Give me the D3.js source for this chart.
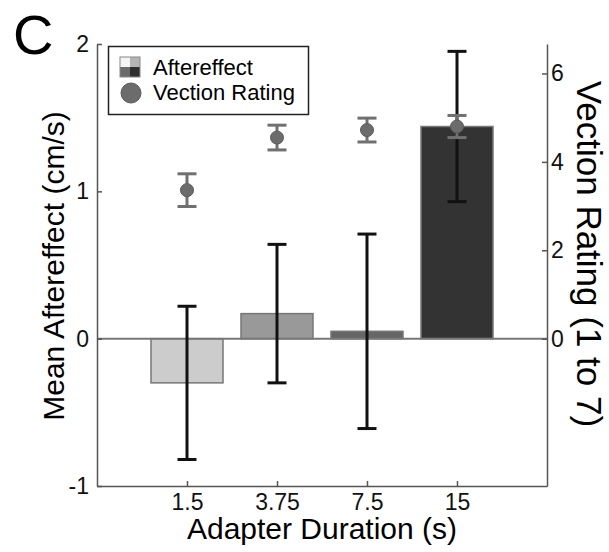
<!DOCTYPE html>
<html>
<head>
<meta charset="utf-8">
<script src="https://cdn.jsdelivr.net/npm/d3@7"></script>
<style>
	body { margin: 0; background: #fff; }
	svg { display: block; font-family: "Liberation Sans", Arial, Helvetica, sans-serif; }
	.axis path, .axis line { stroke: #555; stroke-width: 1.5; }
</style>
</head>
<body>
<svg id="chart" width="609" height="552"></svg>
<script>
// adapter durations (s)
var durations = ["1.5", "3.75", "7.5", "15"];
// mean aftereffect (cm/s) and its error
var aftereffect = [-0.30, 0.17, 0.05, 1.44];
var aftereffectErr = [0.52, 0.47, 0.66, 0.51];
// vection rating (1 to 7) and its error
var vection = [3.36, 4.55, 4.72, 4.80];
var vectionErr = [0.37, 0.28, 0.27, 0.25];
// tick labels
var leftTicks = [-1, 0, 1, 2];
var rightTicks = [0, 2, 4, 6];

var barShades = ["#cccccc", "#999999", "#666666", "#333333"];

var margin = {top: 44, right: 62, bottom: 66, left: 97},
	width = 609 - margin.left - margin.right,
	height = 552 - margin.top - margin.bottom;

var x = d3.scaleLinear().domain([0, durations.length + 1]).range([0, width]),
	y = d3.scaleLinear().domain([-1, 2]).range([height, 0]),
	y2 = d3.scaleLinear().domain([-10 / 3, 20 / 3]).range([height, 0]);

var barWidth = x(0.8) - x(0);
var capWidth = 19;

// plain hyphen for negatives, as in the original figure
function fmt(d) { return String(d); }

var svg = d3.select("#chart");

svg.append("text")
	.attr("x", 13)
	.attr("y", 54)
	.style("font-size", "56px")
	.text("C");

var g = svg.append("g")
	.attr("transform", "translate(" + margin.left + "," + margin.top + ")");

// bars
g.selectAll(".bar")
	.data(aftereffect)
	.enter().append("rect")
	.attr("class", "bar")
	.attr("x", function(d, i) { return x(i + 1) - barWidth / 2; })
	.attr("y", function(d) { return y(Math.max(0, d)); })
	.attr("width", barWidth)
	.attr("height", function(d) { return Math.abs(y(d) - y(0)); })
	.attr("fill", function(d, i) { return barShades[i]; })
	.attr("stroke", "#777")
	.attr("stroke-width", 1.5);

// zero line
g.append("line")
	.attr("x1", 0)
	.attr("x2", width)
	.attr("y1", y(0))
	.attr("y2", y(0))
	.attr("stroke", "#777")
	.attr("stroke-width", 2);

function errorBars(values, errs, scale, color, cls) {
	var eb = g.selectAll("." + cls)
		.data(values)
		.enter().append("g")
		.attr("class", cls)
		.attr("stroke", color)
		.attr("stroke-width", 3);
	eb.append("line")
		.attr("x1", function(d, i) { return x(i + 1); })
		.attr("x2", function(d, i) { return x(i + 1); })
		.attr("y1", function(d, i) { return scale(d - errs[i]); })
		.attr("y2", function(d, i) { return scale(d + errs[i]); });
	eb.append("line")
		.attr("x1", function(d, i) { return x(i + 1) - capWidth / 2; })
		.attr("x2", function(d, i) { return x(i + 1) + capWidth / 2; })
		.attr("y1", function(d, i) { return scale(d + errs[i]); })
		.attr("y2", function(d, i) { return scale(d + errs[i]); });
	eb.append("line")
		.attr("x1", function(d, i) { return x(i + 1) - capWidth / 2; })
		.attr("x2", function(d, i) { return x(i + 1) + capWidth / 2; })
		.attr("y1", function(d, i) { return scale(d - errs[i]); })
		.attr("y2", function(d, i) { return scale(d - errs[i]); });
}

errorBars(aftereffect, aftereffectErr, y, "#111", "aeErr");
errorBars(vection, vectionErr, y2, "#707070", "vecErr");

// vection points
g.selectAll(".dot")
	.data(vection)
	.enter().append("circle")
	.attr("class", "dot")
	.attr("r", 6.5)
	.attr("cx", function(d, i) { return x(i + 1); })
	.attr("cy", function(d) { return y2(d); })
	.attr("fill", "#6c6c6c")
	.attr("stroke", "#5a5a5a")
	.attr("stroke-width", 1);

// axes
g.append("g")
	.attr("class", "axis axis--y")
	.call(d3.axisLeft(y).tickValues(leftTicks).tickFormat(fmt).tickSizeInner(-5).tickSizeOuter(0).tickPadding(8));

g.append("g")
	.attr("class", "axis axis--y2")
	.attr("transform", "translate(" + width + ",0)")
	.call(d3.axisRight(y2).tickValues(rightTicks).tickFormat(fmt).tickSizeInner(-5).tickSizeOuter(0).tickPadding(4));

g.append("g")
	.attr("class", "axis axis--x")
	.attr("transform", "translate(0," + height + ")")
	.call(d3.axisBottom(x).tickValues([1, 2, 3, 4]).tickFormat(function(d) { return durations[d - 1]; }).tickSizeInner(-5).tickSizeOuter(0).tickPadding(8));

g.selectAll(".axis")
	.attr("font-family", null)
	.attr("font-size", null);
g.selectAll(".axis text")
	.style("font-size", "23px")
	.style("fill", "#111");

// axis titles
svg.append("text")
	.attr("x", margin.left + width / 2)
	.attr("y", 539)
	.attr("text-anchor", "middle")
	.style("font-size", "30px")
	.text("Adapter Duration (s)");

svg.append("text")
	.attr("transform", "translate(64,266) rotate(-90)")
	.attr("text-anchor", "middle")
	.style("font-size", "30px")
	.text("Mean Aftereffect (cm/s)");

svg.append("text")
	.attr("transform", "translate(577,254) rotate(90)")
	.attr("text-anchor", "middle")
	.style("font-size", "35px")
	.text("Vection Rating (1 to 7)");

// legend
var legend = svg.append("g").attr("class", "legend");

legend.append("rect")
	.attr("x", 108.5)
	.attr("y", 46.5)
	.attr("width", 200)
	.attr("height", 68)
	.attr("fill", "#fff")
	.attr("stroke", "#222")
	.attr("stroke-width", 1.5);

var quad = [["#f4f4f4", "#b4b4b4"], ["#6a6a6a", "#2e2e2e"]];
quad.forEach(function(row, r) {
	row.forEach(function(c, k) {
		legend.append("rect")
			.attr("x", 120 + k * 10)
			.attr("y", 57 + r * 10)
			.attr("width", 10)
			.attr("height", 10)
			.attr("fill", c);
	});
});
legend.append("rect")
	.attr("x", 120)
	.attr("y", 57)
	.attr("width", 20)
	.attr("height", 20)
	.attr("fill", "none")
	.attr("stroke", "#888")
	.attr("stroke-width", 1);

legend.append("circle")
	.attr("cx", 131)
	.attr("cy", 93)
	.attr("r", 10)
	.attr("fill", "#6c6c6c")
	.attr("stroke", "#5a5a5a");

legend.append("text")
	.attr("x", 153)
	.attr("y", 75)
	.style("font-size", "22px")
	.text("Aftereffect");

legend.append("text")
	.attr("x", 153)
	.attr("y", 100)
	.style("font-size", "22px")
	.text("Vection Rating");
</script>
</body>
</html>
